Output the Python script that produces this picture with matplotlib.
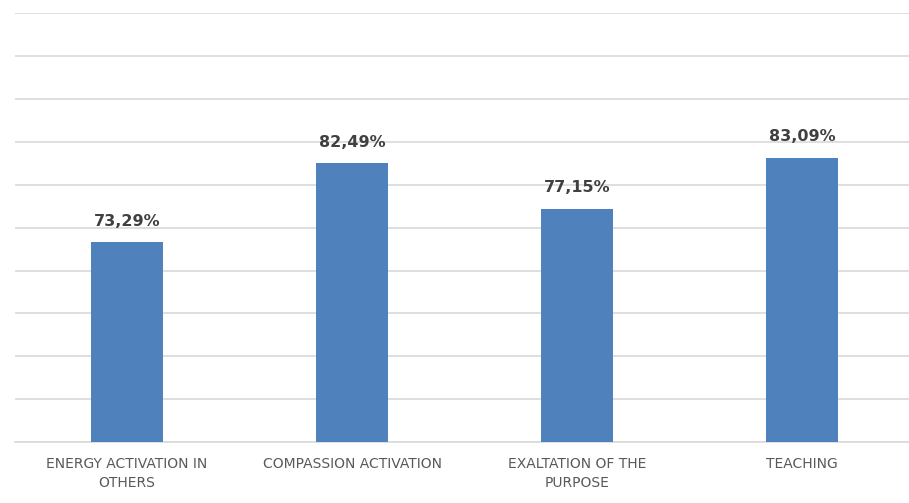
import numpy as np
import matplotlib.pyplot as plt

categories = ['ENERGY ACTIVATION IN\nOTHERS', 'COMPASSION ACTIVATION',
              'EXALTATION OF THE\nPURPOSE', 'TEACHING']
values = [73.29, 82.49, 77.15, 83.09]
value_labels = ['73,29%', '82,49%', '77,15%', '83,09%']

fig = plt.figure(figsize=(9.09, 5.03), dpi=100)
ax = fig.add_axes([0.016, 0.121, 0.99, 0.853])

x = np.arange(len(categories))
ax.bar(x, values, width=0.32, color='#4f81bd', zorder=3)

for xi, v, lab in zip(x, values, value_labels):
    ax.text(xi, v + 1.6, lab, ha='center', va='bottom', fontsize=11.5,
            fontweight='bold', color='#404040', family='DejaVu Sans')

ax.set_ylim(50, 100)
ax.set_xlim(-0.5, len(categories) - 0.5)
ax.set_yticks(np.arange(50, 101, 5))
ax.yaxis.grid(True, color='#d9d9d9', linewidth=1.2)
ax.set_axisbelow(True)
ax.tick_params(axis='y', left=False, labelleft=False)
ax.tick_params(axis='x', length=0, pad=11)
ax.set_xticks(x)
ax.set_xticklabels(categories, fontsize=10, color='#595959', family='DejaVu Sans',
                   linespacing=1.4)
for s in ['top', 'right', 'left']:
    ax.spines[s].set_visible(False)
ax.spines['bottom'].set_color('#d9d9d9')
ax.spines['bottom'].set_linewidth(1.2)

fig.savefig('out.png', dpi=100)
